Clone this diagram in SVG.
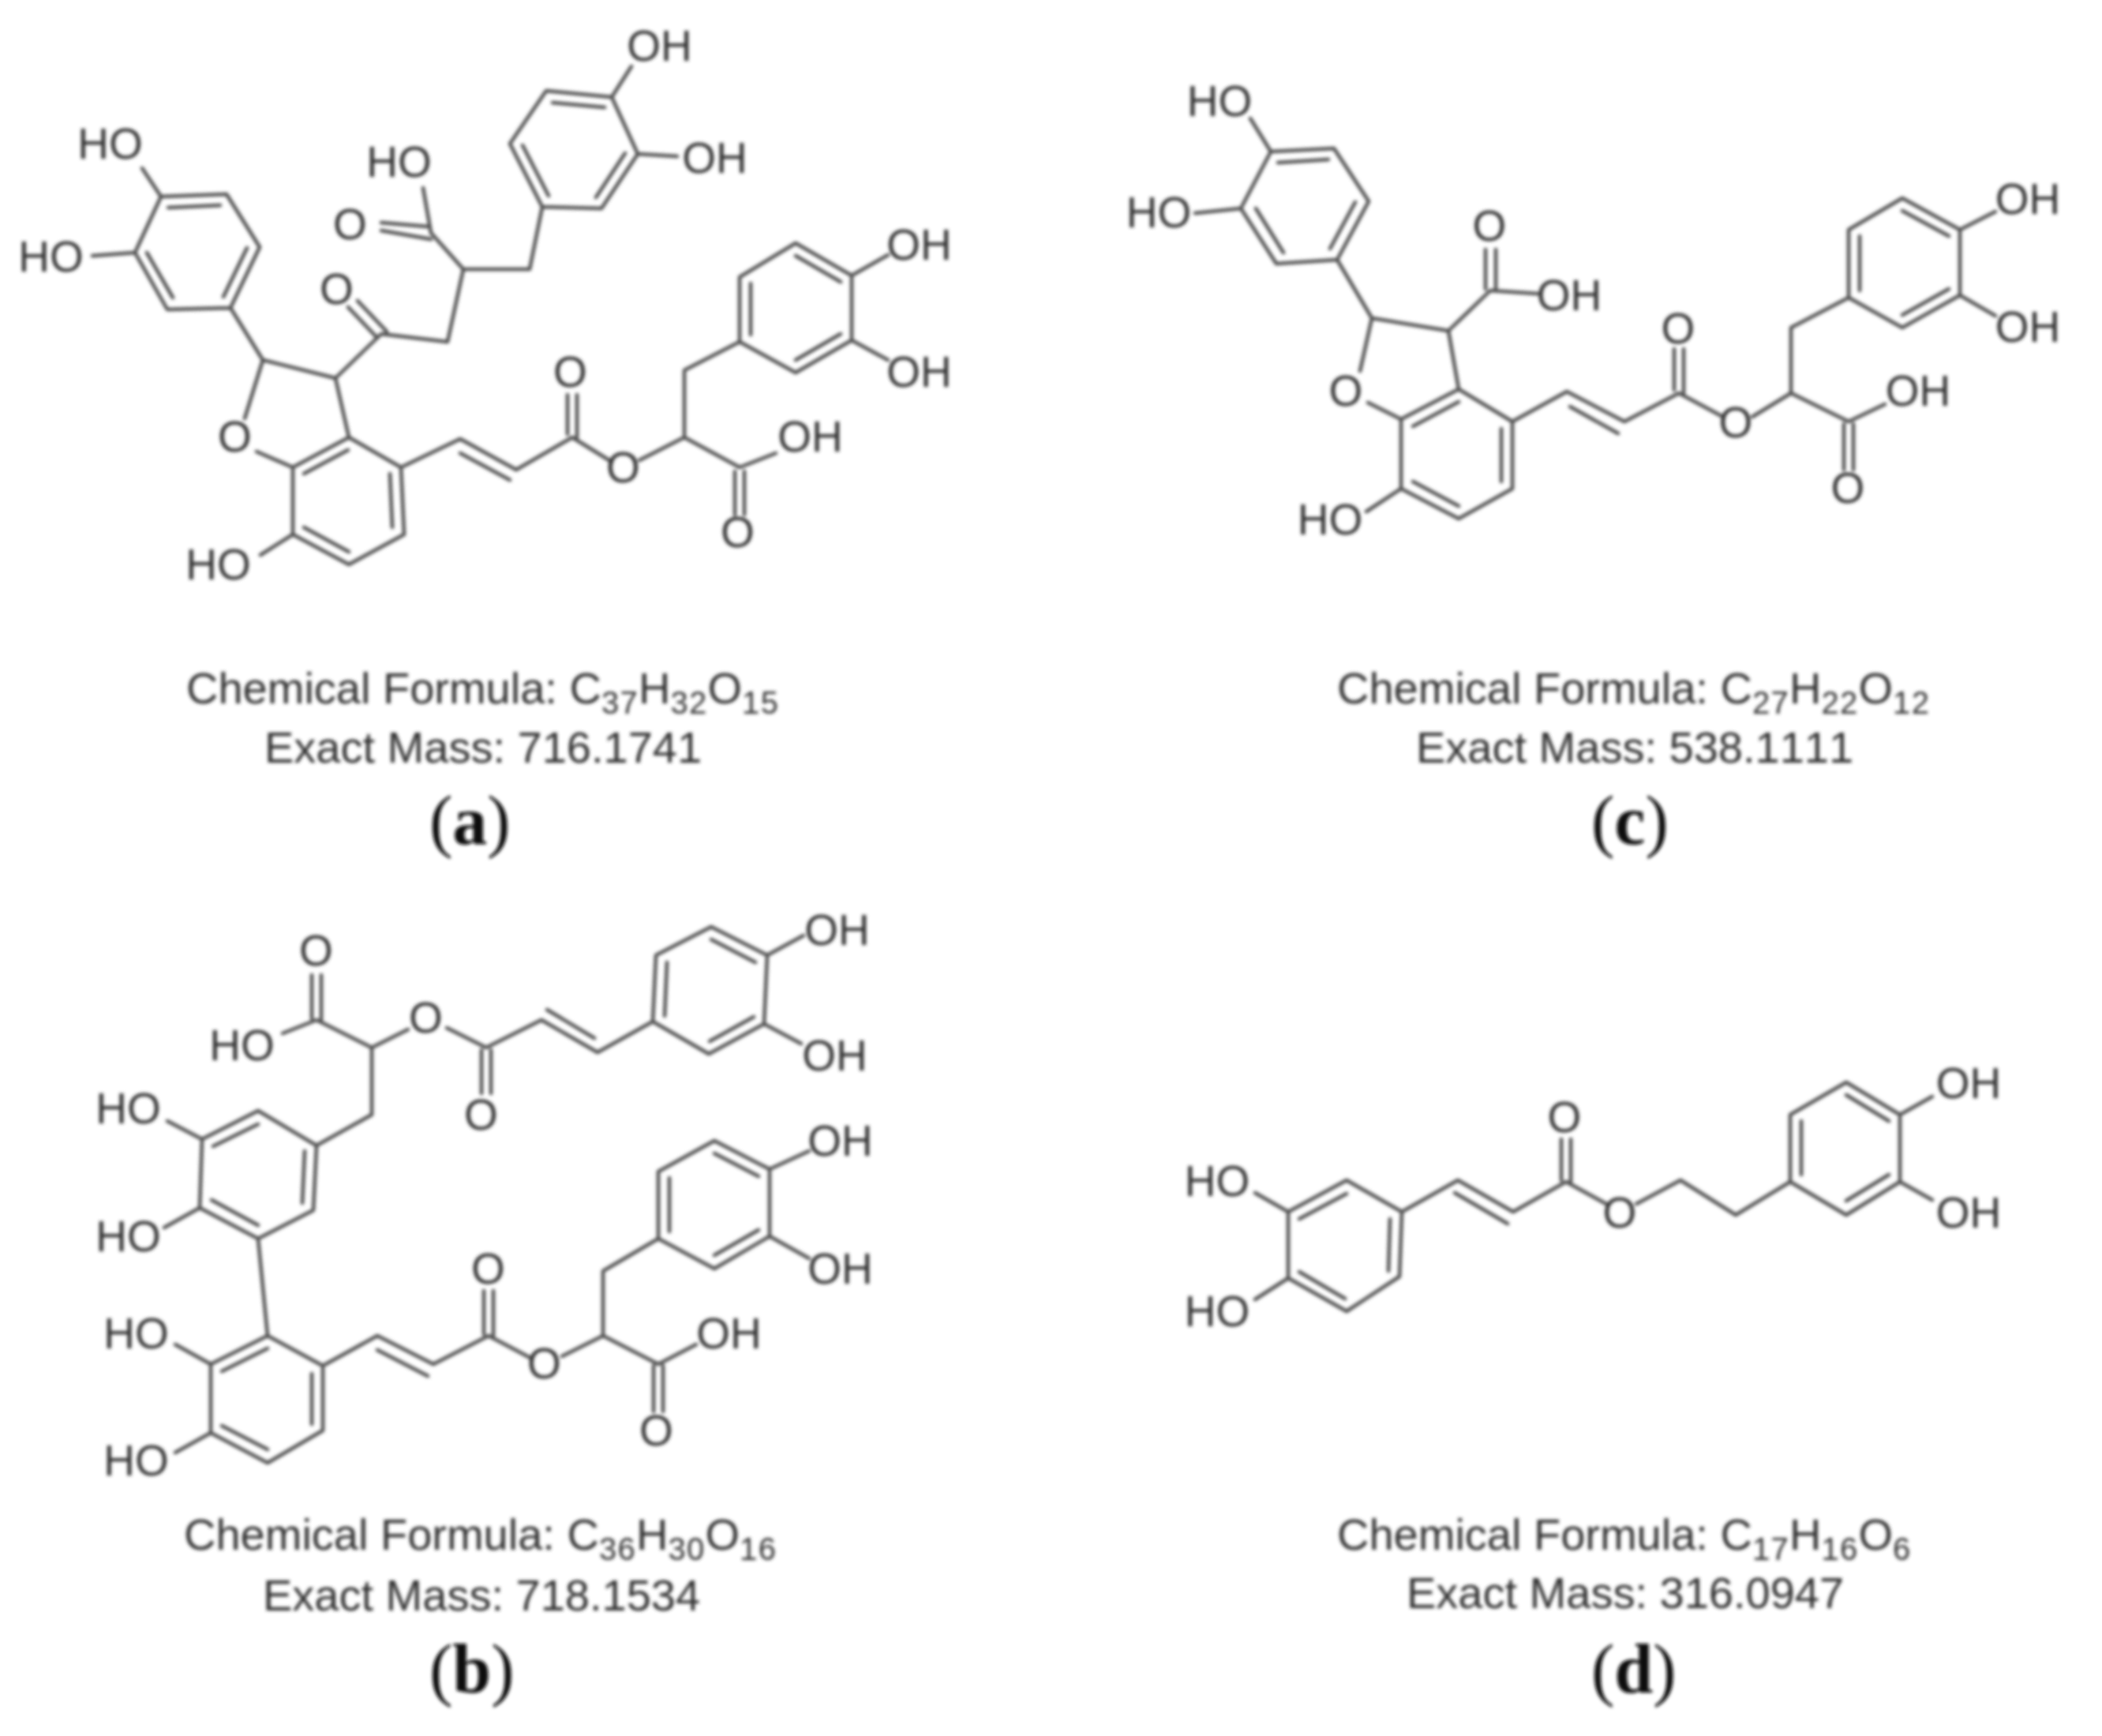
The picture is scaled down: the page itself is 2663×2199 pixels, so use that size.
<svg xmlns="http://www.w3.org/2000/svg" width="2663" height="2199" viewBox="0 0 2663 2199">
<defs>
<filter id="soft" x="-5%" y="-5%" width="110%" height="110%"><feGaussianBlur stdDeviation="2"/></filter>
</defs>
<style>
.b{fill:none;stroke:#4d4d4d;stroke-width:4.5;stroke-linecap:round;stroke-linejoin:round}
.l{font-family:"Liberation Sans",Arial,sans-serif;font-size:55px;fill:#333;text-anchor:middle;transform:translate(-2.5px,-3px)}
#node-c .l,#node-d .l{transform:translate(-3px,-3px)}
.c{font-family:"Liberation Sans",Arial,sans-serif;font-size:56px;fill:#333;font-kerning:none}
.s{font-size:40px;letter-spacing:1.3px}
.t{font-family:"Liberation Serif","Times New Roman",serif;font-size:88px;fill:#111}
.t tspan{font-weight:bold}
</style>
<rect width="2663" height="2199" fill="#fff"/>
<g filter="url(#soft)">
<g id="connectors">
<path id="bonds-a" class="b" d="M204 249L287 246L329 313L292 390L212 392L171 320Z M213 263L279 260 M313 314L283 376 M219 377L186 320 M204 249L180 213 M171 320L117 324 M292 390L333 456L425 479L442 554 M333 456L310 530 M325 572L371 592 M442 554L508 592L512 677L442 715L371 677L371 592Z M441 570L385 600 M494 600L497 668 M442 699L385 668 M371 677L330 703 M508 592L583 556L654 595L725 554 M583 574L646 608 M719 500L719 550 M731 500L731 554 M725 554L775 585 M810 583L867 554L937 592L983 574 M931 597L931 652 M943 597L943 652 M867 554L867 469L937 433 M937 433L937 351L1008 308L1079 349L1079 431L1008 472Z M951 424L951 359 M1008 324L1065 357 M1065 423L1008 456 M1079 349L1125 323 M1079 431L1125 456 M425 479L483 423L567 433L587 341L671 341L687 262 M478 428L441 389 M490 420L453 381 M587 341L546 295L536 238 M483 282L542 287 M483 292L546 303 M687 262L646 182L692 115L775 123L808 195L762 264Z M695 248L662 184 M700 130L766 136 M792 194L755 250 M775 123L800 84 M808 195L858 198"/>
<path id="bonds-c" class="b" transform="translate(-2,0)" d="M1612 192L1692 188L1736 255L1696 329L1619 334L1574 264Z M1621 206L1685 202 M1719 256L1687 315 M1628 320L1593 264 M1612 192L1586 150 M1574 264L1516 270 M1696 329L1740 403L1837 419L1850 493 M1740 403L1725 470 M1735 510L1777 531 M1850 493L1918 534L1918 619L1850 657L1777 619L1777 531Z M1850 509L1792 540 M1904 543L1904 610 M1850 641L1792 610 M1777 619L1733 648 M1837 419L1890 368L1950 372 M1884 316L1884 366 M1897 316L1897 368 M1918 534L1987 496L2060 534L2129 498 M1991 515L2052 549 M2123 442L2123 494 M2135 442L2135 498 M2129 498L2185 528 M2222 528L2271 498L2271 415L2344 377 M2344 377L2344 291L2412 251L2485 291L2485 374L2412 415Z M2358 368L2358 299 M2412 267L2471 299 M2471 366L2412 399 M2485 291L2530 268 M2485 374L2530 400 M2271 498L2344 534L2390 512 M2338 537L2338 595 M2350 537L2350 595"/>
<path id="bonds-b" class="b" d="M901 1174L972 1210L968 1297L898 1335L827 1294L831 1210Z M901 1190L957 1219 M955 1288L899 1319 M842 1287L845 1219 M972 1210L1018 1185 M968 1297L1015 1322 M827 1294L757 1333L686 1292L616 1327 M693 1279L753 1315 M610 1330L610 1385 M622 1330L622 1385 M616 1327L566 1302 M517 1304L471 1327L401 1292L358 1309 M395 1235L395 1290 M407 1235L407 1292 M471 1327L471 1412L401 1451 M401 1451L397 1533L327 1569L253 1530L256 1443L327 1407Z M386 1458L383 1524 M327 1552L268 1520 M270 1452L327 1424 M256 1443L212 1420 M253 1530L208 1555 M327 1569L339 1692 M339 1692L409 1730L409 1812L339 1853L267 1815L267 1728Z M339 1708L281 1737 M395 1740L395 1804 M339 1836L281 1806 M267 1728L222 1703 M267 1815L222 1840 M409 1730L478 1692L549 1728L619 1692 M478 1710L542 1743 M613 1635L613 1690 M625 1635L625 1692 M619 1692L672 1720 M712 1718L764 1692L764 1610L834 1569 M834 1569L834 1484L905 1445L975 1481L975 1566L905 1607Z M848 1560L848 1492 M905 1461L961 1490 M961 1558L905 1590 M975 1481L1025 1458 M975 1566L1025 1594 M764 1692L834 1728L882 1703 M828 1730L828 1788 M840 1730L840 1788"/>
<path id="bonds-d" class="b" d="M1706 1495L1776 1535L1773 1617L1706 1661L1632 1619L1632 1535Z M1706 1512L1646 1544 M1761 1544L1759 1610 M1704 1645L1646 1611 M1632 1535L1590 1511 M1632 1619L1590 1646 M1776 1535L1847 1495L1917 1535L1984 1497 M1843 1511L1910 1550 M1978 1443L1978 1495 M1990 1443L1990 1497 M1984 1497L2035 1525 M2073 1525L2129 1495L2199 1539L2268 1497 M2268 1497L2268 1412L2339 1371L2407 1412L2407 1497L2339 1539Z M2282 1488L2282 1420 M2339 1387L2393 1420 M2393 1488L2339 1521 M2407 1412L2448 1389 M2407 1497L2448 1520"/>
</g>
<g id="node-a">
<text class="l" x="142" y="204">HO</text><text class="l" x="67" y="347">HO</text><text class="l" x="300" y="575">O</text><text class="l" x="279" y="737">HO</text><text class="l" x="725" y="493">O</text><text class="l" x="792" y="614">O</text><text class="l" x="1029" y="575">OH</text><text class="l" x="937" y="696">O</text><text class="l" x="1167" y="332">OH</text><text class="l" x="1167" y="493">OH</text><text class="l" x="429" y="388">O</text><text class="l" x="446" y="306">O</text><text class="l" x="508" y="227">HO</text><text class="l" x="838" y="80">OH</text><text class="l" x="908" y="222">OH</text>
<text class="c" x="236" y="891">Chemical Formula: C<tspan class="s" dy="13">37</tspan><tspan dy="-13">H</tspan><tspan class="s" dy="13">32</tspan><tspan dy="-13">O</tspan><tspan class="s" dy="13">15</tspan></text>
<text class="c" x="335" y="966">Exact Mass: 716.1741</text>
<text class="t" x="544" y="1069">(<tspan>a</tspan>)</text>
</g>
<g id="node-c">
<text class="l" x="1548" y="150">HO</text><text class="l" x="1471" y="291">HO</text><text class="l" x="1708" y="517">O</text><text class="l" x="1688" y="680">HO</text><text class="l" x="1890" y="308">O</text><text class="l" x="1991" y="396">OH</text><text class="l" x="2129" y="438">O</text><text class="l" x="2202" y="557">O</text><text class="l" x="2572" y="274">OH</text><text class="l" x="2572" y="436">OH</text><text class="l" x="2433" y="517">OH</text><text class="l" x="2344" y="640">O</text>
<text class="c" x="1694" y="891">Chemical Formula: C<tspan class="s" dy="13">27</tspan><tspan dy="-13">H</tspan><tspan class="s" dy="13">22</tspan><tspan dy="-13">O</tspan><tspan class="s" dy="13">12</tspan></text>
<text class="c" x="1794" y="966">Exact Mass: 538.1111</text>
<text class="t" x="2016" y="1069">(<tspan>c</tspan>)</text>
</g>
<g id="node-b">
<text class="l" x="1063" y="1200">OH</text><text class="l" x="1060" y="1359">OH</text><text class="l" x="612" y="1434">O</text><text class="l" x="542" y="1311">O</text><text class="l" x="403" y="1226">O</text><text class="l" x="309" y="1346">HO</text><text class="l" x="165" y="1426">HO</text><text class="l" x="165" y="1588">HO</text><text class="l" x="175" y="1711">HO</text><text class="l" x="175" y="1872">HO</text><text class="l" x="621" y="1629">O</text><text class="l" x="692" y="1749">O</text><text class="l" x="1067" y="1467">OH</text><text class="l" x="1067" y="1629">OH</text><text class="l" x="926" y="1711">OH</text><text class="l" x="834" y="1834">O</text>
<text class="c" x="233" y="1963">Chemical Formula: C<tspan class="s" dy="13">36</tspan><tspan dy="-13">H</tspan><tspan class="s" dy="13">30</tspan><tspan dy="-13">O</tspan><tspan class="s" dy="13">16</tspan></text>
<text class="c" x="333" y="2040">Exact Mass: 718.1534</text>
<text class="t" x="544" y="2144">(<tspan>b</tspan>)</text>
</g>
<g id="node-d">
<text class="l" x="1545" y="1518">HO</text><text class="l" x="1545" y="1683">HO</text><text class="l" x="1985" y="1437">O</text><text class="l" x="2055" y="1558">O</text><text class="l" x="2497" y="1394">OH</text><text class="l" x="2497" y="1558">OH</text>
<text class="c" x="1694" y="1963">Chemical Formula: C<tspan class="s" dy="13">17</tspan><tspan dy="-13">H</tspan><tspan class="s" dy="13">16</tspan><tspan dy="-13">O</tspan><tspan class="s" dy="13">6</tspan></text>
<text class="c" x="1782" y="2037">Exact Mass: 316.0947</text>
<text class="t" x="2016" y="2144">(<tspan>d</tspan>)</text>
</g>
</g>
</svg>
